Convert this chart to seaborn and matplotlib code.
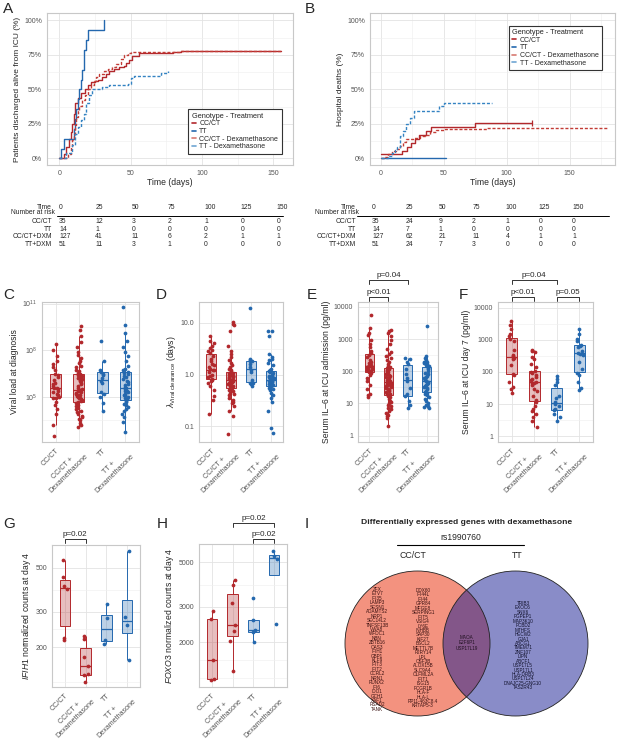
import numpy as np
import pandas as pd
import matplotlib
matplotlib.use("Agg")
import matplotlib.pyplot as plt
import matplotlib.transforms as mtransforms
from matplotlib.lines import Line2D
from matplotlib.patches import Circle
from matplotlib.ticker import FixedLocator, NullFormatter
import seaborn as sns

np.random.seed(11)

#Colores
ROJO = "#B2282C"
AZUL = "#2468AE"
ROJO_DXM = "#C23B35"
AZUL_DXM = "#3483C2"

#Grupos de los paneles C-H
grupos = ["CC/CT", "CC/CT +\nDexamethasone", "TT", "TT +\nDexamethasone"]
colores_grupo = [ROJO, ROJO, AZUL, AZUL]

#A: pacientes dados de alta vivos de UCI (%)
a_t_cc = [0, 3, 5, 7, 8, 9, 10, 11, 13, 15, 18, 20, 22, 25, 27, 30, 33, 35, 38, 42, 45, 47, 49, 51, 56, 80, 85, 155]
a_p_cc = [0, 3, 8, 14, 19, 25, 32, 40, 44, 47, 50, 53, 55, 56, 57, 59, 61, 63, 65, 66, 67, 69, 71, 74, 76, 77, 78, 78]
a_t_tt = [0, 1, 3, 10, 11, 12, 13, 14, 15, 16, 17, 19, 20, 31]
a_p_tt = [0, 7.1, 14.3, 21.4, 28.6, 35.7, 42.9, 50, 57.1, 64.3, 78.6, 85.7, 92.9, 100]
a_t_ccd = [0, 6, 8, 9, 10, 11, 12, 13, 14, 16, 18, 20, 22, 24, 26, 28, 31, 34, 37, 40, 43, 45, 48, 50, 85, 155]
a_p_ccd = [0, 3, 8, 13, 18, 24, 30, 34, 38, 42, 46, 50, 53, 56, 59, 61, 63, 65, 66, 68, 72, 75, 76, 77, 78, 78]
a_t_ttd = [0, 5, 9, 11, 13, 15, 17, 19, 21, 23, 30, 35, 48, 50, 52, 68, 71, 76]
a_p_ttd = [0, 4, 10, 18, 23, 28, 32, 40, 46, 50, 52, 53, 54, 58, 60, 60, 62, 63]

#B: muertes hospitalarias (%)
b_t_cc = [0, 17, 21, 24, 27, 30, 36, 40, 75, 120]
b_p_cc = [2.9, 5.7, 8.6, 11.4, 14.3, 17.1, 20, 22.9, 25.7, 25.7]
b_t_tt = [0, 52]
b_p_tt = [0, 0]
b_t_ccd = [0, 3, 6, 9, 12, 15, 18, 20, 26, 31, 35, 39, 44, 51, 84, 180]
b_p_ccd = [0, 1, 3, 5, 7, 9, 12, 14, 15, 16, 17, 19, 20.5, 21, 22, 22]
b_t_ttd = [0, 6, 9, 11, 13, 15, 18, 20, 23, 26, 44, 46, 50, 88]
b_p_ttd = [0, 2, 4, 6, 8, 16, 20, 25, 29, 34, 34, 38, 40, 40]

#Tablas de numero en riesgo
tiempos_tabla = [0, 25, 50, 75, 100, 125, 150]
filas_tabla = ["CC/CT", "TT", "CC/CT+DXM", "TT+DXM"]
riesgo_a_cc = [35, 12, 3, 2, 1, 0, 0]
riesgo_a_tt = [14, 1, 0, 0, 0, 0, 0]
riesgo_a_ccd = [127, 41, 11, 6, 2, 1, 1]
riesgo_a_ttd = [51, 11, 3, 1, 0, 0, 0]
riesgo_b_cc = [35, 24, 9, 2, 1, 0, 0]
riesgo_b_tt = [14, 7, 1, 0, 0, 0, 0]
riesgo_b_ccd = [127, 62, 21, 11, 4, 1, 1]
riesgo_b_ttd = [51, 24, 7, 3, 0, 0, 0]

#C: carga viral al diagnostico (log10)
c_cc = [2.5, 3.2, 3.9, 4.2, 4.5, 4.7, 4.9, 4.95, 5.0, 5.1, 5.2, 5.3, 5.4, 5.5, 5.55, 5.6, 5.7, 5.8, 5.9, 6.1,
        6.3, 6.4, 6.5, 6.7, 6.9, 7.1, 7.3, 7.6, 8.0, 8.4]
c_ccd = [3.07, 3.2, 3.35, 3.5, 3.6, 3.7, 3.8, 3.9, 4.0, 4.1, 4.2, 4.3, 4.4, 4.5, 4.6,
         4.7, 4.75, 4.8, 4.85, 4.9, 4.95, 5.0, 5.05, 5.1, 5.15, 5.2, 5.25, 5.3, 5.35, 5.4,
         5.45, 5.5, 5.6, 5.7, 5.8, 5.9, 6.0, 6.05, 6.1, 6.15, 6.2, 6.3, 6.35, 6.4, 6.45,
         6.55, 6.65, 6.75, 6.9, 7.0, 7.15, 7.3, 7.5, 7.7, 7.9, 8.2, 8.5, 8.9, 9.3, 9.54]
c_tt = [4.08, 4.6, 5.0, 5.2, 5.3, 5.9, 6.0, 6.2, 6.4, 6.5, 6.6, 6.7, 7.3, 8.6]
c_ttd = [2.75, 3.4, 3.7, 3.9, 4.1, 4.2, 4.35, 4.45, 4.55, 4.65, 4.75,
         4.85, 4.9, 5.0, 5.1, 5.15, 5.2, 5.3, 5.35, 5.4, 5.5, 5.55,
         5.65, 5.75, 5.85, 5.95, 6.05, 6.15, 6.25, 6.35, 6.45, 6.55, 6.6,
         6.7, 6.8, 7.0, 7.3, 7.6, 7.9, 8.2, 8.6, 9.1, 9.6, 10.8]

#D: lambda de aclaramiento viral (dias)
d_cc = [0.17, 0.33, 0.38, 0.5, 0.6, 0.7, 0.75, 0.8, 0.82, 0.9, 0.95, 1.0, 1.1, 1.2, 1.22, 1.28, 1.4, 1.5,
        1.6, 1.8, 2.0, 2.3, 2.6, 2.8, 3.0, 3.3, 3.6, 4.0, 4.5, 5.5]
d_ccd = [0.07, 0.16, 0.2, 0.25, 0.28, 0.3, 0.33, 0.36, 0.4, 0.42, 0.45, 0.48, 0.5, 0.52, 0.54,
         0.56, 0.58, 0.6, 0.62, 0.64, 0.66, 0.68, 0.7, 0.71, 0.72, 0.73, 0.74, 0.75, 0.76, 0.77,
         0.79, 0.8, 0.82, 0.85, 0.88, 0.9, 0.92, 0.95, 0.97, 1.0, 1.02, 1.04, 1.06, 1.08, 1.09,
         1.12, 1.2, 1.3, 1.4, 1.5, 1.7, 1.9, 2.2, 2.5, 2.9, 3.5, 7.0, 9.0, 9.5, 10.5]
d_tt = [0.6, 0.65, 0.7, 0.7, 0.8, 1.1, 1.2, 1.4, 1.6, 1.8, 1.8, 1.9, 2.0, 19.0]
d_ttd = [0.075, 0.095, 0.2, 0.3, 0.35, 0.4, 0.45, 0.5, 0.52, 0.55, 0.57,
         0.6, 0.62, 0.65, 0.68, 0.7, 0.72, 0.74, 0.76, 0.77, 0.78, 0.79,
         0.81, 0.83, 0.86, 0.9, 0.93, 0.96, 1.0, 1.05, 1.1, 1.15, 1.18,
         1.22, 1.3, 1.5, 1.7, 1.9, 2.0, 2.2, 2.5, 5.5, 6.8, 7.0]

#E: IL-6 al ingreso en UCI (pg/ml)
e_cc = [16, 18, 20, 28, 38, 50, 60, 75, 90, 96, 100, 105, 110, 115, 120, 128, 135, 138, 142, 150,
        160, 170, 185, 200, 230, 270, 330, 380, 430, 550, 700, 900, 1300, 1500, 2200, 5500]
e_ccd = [2, 3.5, 4, 4.5, 5, 6, 6.5, 7, 8, 9, 10, 11, 12, 14, 16, 17,
         19, 20, 22, 24, 26, 28, 30, 32, 34, 36, 38, 40, 41, 42, 43, 44,
         46, 48, 50, 55, 60, 65, 70, 75, 80, 85, 90, 95, 100, 110, 120, 125,
         135, 150, 170, 190, 220, 260, 300, 350, 400, 500, 700, 900, 1200, 1500, 1800, 1900]
e_tt = [7, 9, 12, 17, 19, 30, 50, 60, 80, 120, 170, 200, 240, 260]
e_ttd = [7, 7.5, 8, 9, 10, 12, 14, 16, 18, 20, 21,
         23, 25, 28, 30, 33, 35, 38, 40, 42, 45, 47,
         49, 52, 56, 60, 66, 72, 80, 90, 100, 115, 130,
         140, 150, 160, 170, 180, 190, 200, 220, 250, 290, 2500]

#F: IL-6 dia 7 de UCI (pg/ml)
f_cc = [22, 30, 35, 50, 82, 86, 160, 250, 280, 290, 310, 350, 500, 900, 1050, 1300, 1500, 2200, 3000, 4000]
f_ccd = [2, 3, 4, 5, 6, 7, 9, 12, 13, 18, 25, 30, 38, 45, 47, 50, 55, 60, 70, 80, 90, 100, 110, 140,
         180, 250, 300, 420, 450, 500]
f_tt = [3, 4, 5, 6.5, 7, 9, 10, 12, 15, 18, 40, 50, 60, 75]
f_ttd = [28, 32, 50, 80, 95, 120, 200, 350, 370, 390, 450, 600, 640, 700, 900, 1100, 1500, 2200]

#G: IFIH1 cuentas normalizadas dia 4
g_cc = [547, 447, 404, 391, 222, 216]
g_ccd = [227, 220, 178, 160, 147, 144, 134]
g_tt = [327, 280, 216, 206]
g_ttd = [607, 283, 259, 172]

#H: FOXO3 cuentas normalizadas dia 4
h_cc = [2860, 2600, 1635, 1315, 1290]
h_ccd = [4100, 3870, 3150, 2430, 2270, 2025, 1440]
h_tt = [3320, 2570, 2310, 2250, 2000]
h_ttd = [5720, 5380, 5180, 2470]

#I: genes diferencialmente expresados
genes_cc_1 = ["ZFX", "ETV7", "IFI35", "LAMP3", "SESN1", "ADAMTS2", "NRP1", "SEC14L2", "TNFSF13B", "VWA8",
              "WFDC1", "NBN", "ZBTB16", "OAS3", "IFIH1", "GBP1", "KLF9", "IFIT3", "IFIT2", "CCRL2",
              "NRN1", "RUNX2", "IFI6", "IDO1", "GCH1", "XAF1", "RSAD2", "TANK"]
genes_cc_2 = ["DDX60", "IFI44L", "IFI44", "GPR84", "MFGE8", "SERPING1", "IFIT5", "VSIG4", "LY6E", "INHBB",
              "SAP30", "KIF27", "BSCL2", "METTL7B", "P2RY14", "LPL", "OSF3B", "ALOX15B", "SLC9A4",
              "OLFML2A", "IFIT1", "ISG15", "FCGR1B", "HLA-F", "HLA-L", "RP11-463C8.4", "KRTAP5-3"]
genes_comunes = ["MAOA", "E2F6P1", "USP17L19"]
genes_tt = ["TRIB3", "EXOC6", "SNX6", "PGPEP1", "MAP3K10", "PCBD2", "MTHFS", "HECW2", "GJA1", "ABCG1",
            "TMEM71", "ZNF107", "LIPN", "ABCF1", "USP17L5", "USP17L1", "HLA-DRB3", "USP17L24",
            "DNAJC25-GNG10", "TAS2R43"]

#Estilo general
sns.set_theme(style="whitegrid")
plt.rcParams["font.family"] = ["Liberation Sans", "DejaVu Sans"]
plt.rcParams["mathtext.fontset"] = "custom"
plt.rcParams["mathtext.rm"] = "Liberation Sans"
plt.rcParams["mathtext.it"] = "Liberation Sans:italic"

W, H = 617, 741
fig = plt.figure(figsize=(W / 100, H / 100), dpi=100)


def caja(l, t, r, b):
    #Convierte un rectangulo en pixeles a coordenadas de figura
    return [l / W, 1 - b / H, (r - l) / W, (b - t) / H]


def estilo(ax):
    ax.set_facecolor("white")
    for s in ax.spines.values():
        s.set_color("#C8C8C8")
        s.set_linewidth(0.8)
    ax.grid(True, which="major", color="#E3E3E3", lw=0.6)
    ax.grid(True, which="minor", color="#F0F0F0", lw=0.45)
    ax.tick_params(which="major", labelsize=5, labelcolor="#555555", color="#B3B3B3",
                   length=2, width=0.5, pad=1.5)
    ax.tick_params(which="minor", length=0)
    ax.set_axisbelow(True)


def curva_km(ax, t, p, color, discontinua):
    sns.lineplot(x=t, y=p, color=color, drawstyle="steps-post", estimator=None, sort=False,
                 lw=1.0, ax=ax)
    if discontinua:
        ax.lines[-1].set_linestyle((0, (2.2, 1.3)))


def leyenda_km(ax, loc, anchor):
    handles = [Line2D([], [], color=ROJO, lw=1.2), Line2D([], [], color=AZUL, lw=1.2),
               Line2D([], [], color="#D77A72", lw=1.2), Line2D([], [], color="#6FA6D3", lw=1.2)]
    etiquetas = ["CC/CT", "TT", "CC/CT - Dexamethasone", "TT - Dexamethasone"]
    leg = ax.legend(handles, etiquetas, title="Genotype - Treatment", loc=loc, bbox_to_anchor=anchor,
                    fontsize=5, title_fontsize=5.3, handlelength=0.6, handletextpad=0.5,
                    labelspacing=0.1, borderpad=0.5, fancybox=False, framealpha=1)
    leg.get_frame().set_edgecolor("#333333")
    leg.get_frame().set_linewidth(0.8)
    leg._legend_box.align = "left"


def panel_km(rect, curvas, ylabel, xmax, loc, anchor):
    ax = fig.add_axes(caja(*rect))
    for t, p, c, d in curvas:
        curva_km(ax, t, p, c, d)
    estilo(ax)
    ax.set_xlim(-8.6, xmax)
    ax.set_ylim(-4.8, 105.3)
    ax.set_xticks([0, 50, 100, 150])
    ax.xaxis.set_minor_locator(FixedLocator([25, 75, 125, 175]))
    ax.set_yticks([0, 25, 50, 75, 100])
    ax.yaxis.set_minor_locator(FixedLocator([12.5, 37.5, 62.5, 87.5]))
    ax.set_yticklabels(["0%", "25%", "50%", "75%", "100%"])
    ax.set_xlabel("Time (days)", fontsize=6.2, labelpad=1)
    ax.set_ylabel(ylabel, fontsize=6.0, labelpad=2)
    leyenda_km(ax, loc, anchor)
    return ax


panel_km((47, 13, 293, 165),
         [(a_t_cc, a_p_cc, ROJO, False), (a_t_tt, a_p_tt, AZUL, False),
          (a_t_ccd, a_p_ccd, ROJO_DXM, True), (a_t_ttd, a_p_ttd, AZUL_DXM, True)],
         "Patients discharged alive from ICU (%)", 163.7, "lower right", (0.968, 0.05))
axB = panel_km((370, 13, 615, 165),
               [(b_t_cc, b_p_cc, ROJO, False), (b_t_tt, b_p_tt, AZUL, False),
                (b_t_ccd, b_p_ccd, ROJO_DXM, True), (b_t_ttd, b_p_ttd, AZUL_DXM, True)],
               "Hospital deaths (%)", 186, "upper right", (0.962, 0.94))
#Marca de censura al final de CC/CT
axB.plot(b_t_cc[-1:], b_p_cc[-1:], marker="|", markersize=4, color=ROJO, mew=0.9)


def tabla_riesgo(x_etiqueta, x0, escala, linea, filas):
    fs = 4.9
    fig.text(x_etiqueta / W, 1 - 207 / H, "Time", ha="right", va="center", fontsize=fs)
    for t in tiempos_tabla:
        fig.text((x0 + t * escala) / W, 1 - 207 / H, str(t), ha="left", va="center", fontsize=fs)
    fig.text((x_etiqueta + 3) / W, 1 - 213 / H, "Number at risk", ha="right", va="center", fontsize=fs)
    fig.add_artist(Line2D([linea[0] / W, linea[1] / W], [1 - 215.5 / H, 1 - 215.5 / H],
                          color="black", lw=0.7))
    for i, (nombre, valores) in enumerate(zip(filas_tabla, filas)):
        y = 1 - (221.5 + 7.6 * i) / H
        fig.text(x_etiqueta / W, y, nombre, ha="right", va="center", fontsize=fs)
        for t, v in zip(tiempos_tabla, valores):
            fig.text((x0 + t * escala) / W, y, str(v), ha="left", va="center", fontsize=fs)


tabla_riesgo(52, 59, 1.45, (57, 283), [riesgo_a_cc, riesgo_a_tt, riesgo_a_ccd, riesgo_a_ttd])
tabla_riesgo(356, 372, 1.335, (357, 609), [riesgo_b_cc, riesgo_b_tt, riesgo_b_ccd, riesgo_b_ttd])


def panel_caja(rect, series, ylabel, ylim, ticks, ticklabels, menores):
    ax = fig.add_axes(caja(*rect))
    ax.set_yscale("log")
    for grupo, valores, col in zip(grupos, series, colores_grupo):
        r, g, b = matplotlib.colors.to_rgb(col)
        sns.boxplot(x=[grupo] * len(valores), y=valores, order=grupos, width=0.48, showfliers=False,
                    showcaps=False, linewidth=0.7, linecolor=col,
                    boxprops=dict(facecolor=(r, g, b, 0.3), edgecolor=col),
                    whiskerprops=dict(color=col), medianprops=dict(color=col, lw=0.9), ax=ax)
        sns.stripplot(x=[grupo] * len(valores), y=valores, order=grupos, color=col, size=2.7,
                      jitter=0.14, linewidth=0, ax=ax)
    estilo(ax)
    ax.xaxis.grid(True, color="#E3E3E3", lw=0.6)
    ax.set_xlim(-0.6, 3.6)
    ax.set_ylim(*ylim)
    ax.yaxis.set_major_locator(FixedLocator(ticks))
    ax.set_yticklabels(ticklabels)
    ax.yaxis.set_minor_locator(FixedLocator(menores))
    ax.yaxis.set_minor_formatter(NullFormatter())
    ax.set_xticks(range(4))
    ax.set_xticklabels(grupos, rotation=45, ha="right", rotation_mode="anchor",
                       multialignment="center", fontsize=5.1)
    ax.set_xlabel("")
    ax.set_ylabel(ylabel, fontsize=6.2, labelpad=2)
    return ax


def corchete(ax, x1, x2, y_px, texto):
    tr = mtransforms.blended_transform_factory(ax.transData, fig.transFigure)
    y = 1 - y_px / H
    d = 4 / H
    ax.plot([x1, x1, x2, x2], [y - d, y, y, y - d], color="#333333", lw=0.7,
            transform=tr, clip_on=False)
    ax.text((x1 + x2) / 2, y + 1.5 / H, texto, ha="center", va="bottom", fontsize=5.8,
            transform=tr)


axC = panel_caja((42, 302, 139, 442), [10 ** np.array(v) for v in (c_cc, c_ccd, c_tt, c_ttd)],
                 "Viral load at diagnosis", (10 ** 2.1, 10 ** 11.1), [1e5, 1e8, 1e11],
                 ["$10^{5}$", "$10^{8}$", "$10^{11}$"], [10 ** 3.5, 10 ** 6.5, 10 ** 9.5])
axD = panel_caja((199, 302, 283, 442), [d_cc, d_ccd, d_tt, d_ttd],
                 r"$\lambda_{\mathregular{Viral\ clearance}}$ (days)", (10 ** -1.3, 10 ** 1.4),
                 [0.1, 1.0, 10.0], ["0.1", "1.0", "10.0"], [10 ** -0.5, 10 ** 0.5])
axE = panel_caja((358, 302, 438, 442), [e_cc, e_ccd, e_tt, e_ttd],
                 "Serum IL\u20136 at ICU admission (pg/ml)", (10 ** -0.2, 10 ** 4.15),
                 [1, 10, 100, 1000, 10000], ["1", "10", "100", "1000", "10000"],
                 [10 ** 0.5, 10 ** 1.5, 10 ** 2.5, 10 ** 3.5])
axF = panel_caja((498, 302, 593, 442), [f_cc, f_ccd, f_tt, f_ttd],
                 "Serum IL\u20136 at ICU day 7 (pg/ml)", (10 ** -0.18, 10 ** 4.18),
                 [1, 10, 100, 1000, 10000], ["1", "10", "100", "1000", "10000"],
                 [10 ** 0.5, 10 ** 1.5, 10 ** 2.5, 10 ** 3.5])
axG = panel_caja((52, 545, 140, 687), [g_cc, g_ccd, g_tt, g_ttd],
                 "$\\it{IFIH1}$ normalized counts at day 4", (126, 650),
                 [200, 300, 500], ["200", "300", "500"], [134, 245, 387])
axH = panel_caja((199, 544, 287, 687), [h_cc, h_ccd, h_tt, h_ttd],
                 "$\\it{FOXO3}$ normalized counts at day 4", (1195, 6170),
                 [2000, 3000, 5000], ["2000", "3000", "5000"], [1325, 1633, 3873])

corchete(axE, 0, 2, 280, "p=0.04")
corchete(axE, 0, 1, 297, "p<0.01")
corchete(axF, 0, 2, 280, "p=0.04")
corchete(axF, 0, 1, 297, "p<0.01")
corchete(axF, 2, 3, 297, "p=0.05")
corchete(axG, 0, 1, 539, "p=0.02")
corchete(axH, 1, 3, 523, "p=0.02")
corchete(axH, 2, 3, 539, "p=0.02")

#Panel I: diagrama de Venn
axV = fig.add_axes(caja(300, 500, 617, 741))
axV.set_xlim(300, 617)
axV.set_ylim(741, 500)
axV.axis("off")
axV.add_patch(Circle((417.5, 643.5), 72.5, facecolor=(233 / 255, 39 / 255, 0), alpha=0.5, lw=0))
axV.add_patch(Circle((515.5, 643.5), 72.5, facecolor=(21 / 255, 27 / 255, 147 / 255), alpha=0.5, lw=0))
axV.add_patch(Circle((417.5, 643.5), 72.5, fill=False, edgecolor="#222222", lw=0.6))
axV.add_patch(Circle((515.5, 643.5), 72.5, fill=False, edgecolor="#222222", lw=0.6))
axV.text(467, 523, "Differentially expressed genes with dexamethasone", ha="center", va="center",
         fontsize=6.1, fontweight="bold")
axV.text(461, 537, "rs1990760", ha="center", va="center", fontsize=6.2)
axV.plot([397, 524], [545, 545], color="black", lw=0.8)
axV.text(413, 555, "CC/CT", ha="center", va="center", fontsize=6.3)
axV.text(517, 555, "TT", ha="center", va="center", fontsize=6.3)
fs_gen = 3.35
axV.text(377, 587, "\n".join(genes_cc_1), ha="center", va="top", fontsize=fs_gen, linespacing=0.86,
         color="#3A1010")
axV.text(423, 588, "\n".join(genes_cc_2), ha="center", va="top", fontsize=fs_gen, linespacing=0.86,
         color="#3A1010")
axV.text(467, 643, "\n".join(genes_comunes), ha="center", va="center", fontsize=fs_gen,
         linespacing=1.15, color="#201020")
axV.text(523, 601, "\n".join(genes_tt), ha="center", va="top", fontsize=fs_gen, linespacing=0.86,
         color="#10102A")

#Letras de los paneles
for letra, x, y in [("A", 8, 9), ("B", 310, 9), ("C", 9, 295), ("D", 161, 295), ("E", 312, 295),
                    ("F", 463, 295), ("G", 9, 524), ("H", 162, 524), ("I", 307, 524)]:
    fig.text(x / W, 1 - y / H, letra, ha="center", va="center", fontsize=11)

fig.savefig("out.png", dpi=100)
